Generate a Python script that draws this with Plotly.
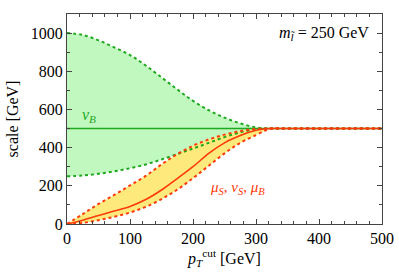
import plotly.graph_objects as go

# pT cut values (GeV)
pt = [0, 25, 50, 75, 100, 125, 150, 175, 200, 225, 250, 275, 300, 315, 325, 350, 400, 450, 500]

# nu_B band (green)
nuB_central = [500] * len(pt)
nuB_upper = [1000, 990, 962, 925, 885, 830, 768, 705, 645, 596, 557, 527, 506, 500, 500, 500, 500, 500, 500]
nuB_lower = [250, 254, 263, 276, 292, 312, 338, 366, 395, 425, 455, 480, 496, 500, 500, 500, 500, 500, 500]

# mu_S, nu_S, mu_B band (red / yellow)
mu_central = [0, 20, 45, 68, 92, 128, 178, 238, 300, 370, 425, 463, 491, 499, 500, 500, 500, 500, 500]
mu_upper = [0, 52, 105, 152, 202, 252, 312, 366, 410, 443, 468, 487, 498, 500, 500, 500, 500, 500, 500]
mu_lower = [0, 6, 20, 38, 60, 90, 130, 180, 240, 305, 370, 425, 466, 490, 500, 500, 500, 500, 500]

GREEN_FILL = "#c0f8c0"
GREEN_LINE = "#1ea81e"
YELLOW_FILL = "#fde97c"
RED_LINE = "#ff3a0a"

fig = go.Figure()

# green band
fig.add_trace(go.Scatter(x=pt, y=nuB_lower, mode="lines", line=dict(width=0, shape="spline"), showlegend=False, hoverinfo="skip"))
fig.add_trace(go.Scatter(x=pt, y=nuB_upper, mode="lines", line=dict(width=0, shape="spline"), fill="tonexty",
                         fillcolor=GREEN_FILL, showlegend=False, hoverinfo="skip"))
# yellow band
fig.add_trace(go.Scatter(x=pt, y=mu_lower, mode="lines", line=dict(width=0, shape="spline"), showlegend=False, hoverinfo="skip"))
fig.add_trace(go.Scatter(x=pt, y=mu_upper, mode="lines", line=dict(width=0, shape="spline"), fill="tonexty",
                         fillcolor=YELLOW_FILL, showlegend=False, hoverinfo="skip"))

# green dotted edges
for ys in (nuB_upper, nuB_lower):
    fig.add_trace(go.Scatter(x=pt, y=ys, mode="lines", line=dict(color=GREEN_LINE, width=2, dash="dot", shape="spline"),
                             showlegend=False))
# green central
fig.add_trace(go.Scatter(x=pt, y=nuB_central, mode="lines", line=dict(color=GREEN_LINE, width=1.6), showlegend=False))
# red dotted edges
for ys in (mu_upper, mu_lower):
    fig.add_trace(go.Scatter(x=pt, y=ys, mode="lines", line=dict(color=RED_LINE, width=2, dash="dot", shape="spline"),
                             showlegend=False))
# red central
fig.add_trace(go.Scatter(x=pt, y=mu_central, mode="lines", line=dict(color=RED_LINE, width=1.6, shape="spline"),
                         showlegend=False))

FONT = "Times New Roman"

fig.add_annotation(x=20, y=500, yshift=2, text="<i>ν<sub>B</sub></i>", showarrow=False, xanchor="left",
                   yanchor="bottom", font=dict(family=FONT, size=16, color=GREEN_LINE))
fig.add_annotation(x=271, y=190, text="<i>μ<sub>S</sub></i>, <i>ν<sub>S</sub></i>, <i>μ<sub>B</sub></i>",
                   showarrow=False, font=dict(family=FONT, size=15, color=RED_LINE))
fig.add_annotation(x=482, y=1000, text="<i>m</i><sub><i>l̃</i></sub> = 250 GeV", showarrow=False,
                   xanchor="right", font=dict(family=FONT, size=16, color="black"))

axis_common = dict(showline=True, linecolor="#444", linewidth=1, mirror="allticks", ticks="inside",
                   tickcolor="#444", ticklen=5, showgrid=False, zeroline=False, automargin=False,
                   tickfont=dict(family=FONT, size=16, color="black"))

fig.update_xaxes(range=[0, 500], tickvals=[0, 100, 200, 300, 400, 500],
                 minor=dict(dtick=20, ticks="inside", ticklen=3, tickcolor="#444"),
                 title=dict(text="<i>p</i><sub><i>T</i></sub><sup>cut</sup> [GeV]",
                            font=dict(family=FONT, size=16, color="black"), standoff=6),
                 **axis_common)
fig.update_yaxes(range=[0, 1100], tickvals=[0, 200, 400, 600, 800, 1000],
                 minor=dict(dtick=100, ticks="inside", ticklen=3, tickcolor="#444"),
                 title=dict(text="scale [GeV]", font=dict(family=FONT, size=16, color="black"), standoff=8),
                 **axis_common)

fig.update_layout(width=399, height=275, margin=dict(l=67, r=17, t=14, b=51),
                  plot_bgcolor="white", paper_bgcolor="white", font=dict(family=FONT))

fig.write_html("out.html", config={"displayModeBar": False})

# remove the default page margin so the figure sits at the window's corner
with open("out.html", "r", encoding="utf-8") as f:
    html = f.read()
html = html.replace("<head>", "<head><style>html,body{margin:0;padding:0;overflow:hidden;}</style>", 1)
with open("out.html", "w", encoding="utf-8") as f:
    f.write(html)
